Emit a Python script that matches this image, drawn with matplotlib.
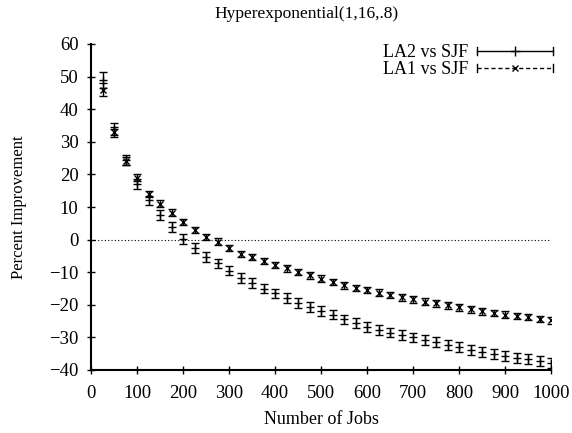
import matplotlib
matplotlib.use("Agg")
import matplotlib.pyplot as plt
import numpy as np
from matplotlib.lines import Line2D
from matplotlib.legend_handler import HandlerBase

jobs = list(range(25, 1001, 25))
la2 = [49, 34, 24.5, 17, 12, 7.5, 3.8, 0.2, -2.6, -5.3, -7.3, -9.5, -11.8, -13.3, -15, -16.5,
       -18, -19.5, -20.7, -21.8, -23, -24.5, -25.7, -26.7, -27.7, -28.5, -29.3, -30, -30.8, -31.5,
       -32.3, -33, -33.8, -34.5, -35, -35.6, -36.2, -36.7, -37.2, -37.8]
la1 = [46, 33, 24, 19, 14, 11, 8.3, 5.4, 3, 0.8, -0.6, -2.6, -4.4, -5.4, -6.6, -7.8,
       -8.8, -10, -11, -12, -13, -14, -14.8, -15.5, -16.3, -17, -17.7, -18.3, -19, -19.6,
       -20.2, -20.8, -21.4, -22, -22.5, -23, -23.4, -23.8, -24.3, -24.8]
la2_err = [2.5, 1.8, 1.5, 1.5, 1.5, 1.5, 1.5, 1.5, 1.5, 1.5, 1.5, 1.5, 1.5, 1.5, 1.5, 1.5,
           1.5, 1.5, 1.5, 1.5, 1.5, 1.5, 1.5, 1.5, 1.5, 1.5, 1.5, 1.5, 1.5, 1.5,
           1.5, 1.5, 1.5, 1.5, 1.5, 1.5, 1.5, 1.5, 1.5, 1.5]
la1_err = [2.0, 1.5, 1.2, 1.0, 1.0, 1.0, 1.0, 1.0, 1.0, 1.0, 1.0, 1.0, 1.0, 1.0, 1.0, 1.0,
           1.0, 1.0, 1.0, 1.0, 1.0, 1.0, 1.0, 1.0, 1.0, 1.0, 1.0, 1.0, 1.0, 1.0,
           1.0, 1.0, 1.0, 1.0, 1.0, 1.0, 1.0, 1.0, 1.0, 1.0]

plt.rcParams['font.family'] = ['Liberation Serif', 'DejaVu Serif']


class GnuplotHandler(HandlerBase):
    def __init__(self, ls, marker, ms):
        super().__init__()
        self.ls = ls
        self.marker = marker
        self.ms = ms

    def create_artists(self, legend, orig_handle, xdescent, ydescent, width, height,
                       fontsize, trans):
        y = height / 2 - ydescent
        x0, x1 = -xdescent, width - xdescent
        line = Line2D([x0, x1], [y, y], color='black', lw=1.0, ls=self.ls, transform=trans)
        c0 = Line2D([x0, x0], [y - 3, y + 3], color='black', lw=1.0, transform=trans)
        c1 = Line2D([x1, x1], [y - 3, y + 3], color='black', lw=1.0, transform=trans)
        m = Line2D([(x0 + x1) / 2], [y], color='black', marker=self.marker, ms=self.ms,
                   mew=1.0, ls='none', transform=trans)
        return [line, c0, c1, m]


fig = plt.figure(figsize=(5.72, 4.33), dpi=100)
ax = fig.add_axes([91/572, 1-370/433, 460/572, 326/433])

ax.errorbar(jobs, la2, yerr=la2_err, fmt='+', color='black', ms=6, mew=1.0,
            elinewidth=1.0, capsize=3, capthick=1.0)
ax.errorbar(jobs, la1, yerr=la1_err, fmt='x', color='black', ms=5, mew=1.0,
            elinewidth=1.0, capsize=3, capthick=1.0)
ax.axhline(0, color='black', lw=0.8, ls=(0, (1, 2)))

ax.set_xlim(0, 1000)
ax.set_ylim(-40, 60)
ax.set_xticks(range(0, 1001, 100))
ax.set_yticks(range(-40, 61, 10))
ax.tick_params(direction='inout', length=6, width=1, labelsize=13.5)
ax.tick_params(axis='x', pad=8)
ax.tick_params(axis='y', pad=6)
for s in ['top', 'right']:
    ax.spines[s].set_visible(False)
for s in ['left', 'bottom']:
    ax.spines[s].set_linewidth(1.5)

ax.set_xlabel('Number of Jobs', fontsize=13, labelpad=6)
ax.set_ylabel('Percent Improvement', fontsize=12, labelpad=16)
fig.text(307/572, 1-14/433, 'Hyperexponential(1,16,.8)', ha='center', va='center', fontsize=12.5)

h2 = Line2D([], [], color='black')
h1 = Line2D([], [], color='black')
leg = ax.legend([h2, h1], ['LA2 vs SJF', 'LA1 vs SJF'], loc='upper right',
                bbox_to_anchor=(553/572, 1-44/433), bbox_transform=fig.transFigure,
                frameon=False, fontsize=13,
                markerfirst=False, handlelength=4.2, handletextpad=0.5,
                labelspacing=0.0, borderpad=0.0, borderaxespad=0.0,
                handler_map={h2: GnuplotHandler('-', '+', 7),
                             h1: GnuplotHandler((0, (3, 2)), 'x', 5)})

fig.savefig('out.png', dpi=100)
